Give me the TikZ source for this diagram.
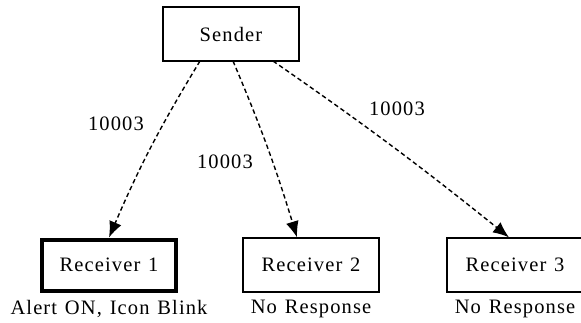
\documentclass[tikz,border=0pt]{standalone}
\usepackage{fontspec}
\setmainfont{Liberation Serif}[LetterSpace=5.5,WordSpace=1.25]
\usetikzlibrary{arrows.meta}
\begin{document}
\begin{tikzpicture}[x=1pt,y=-1pt,
  box/.style={draw, line width=1.3pt, minimum width=136pt, minimum height=54pt, inner sep=0pt, font=\fontsize{20.5}{24}\selectfont},
  thickbox/.style={box, line width=4pt, minimum width=134pt, minimum height=51pt},
  lbl/.style={inner sep=0pt, font=\fontsize{20.5}{24}\selectfont},
  msg/.style={draw, dashed, dash pattern=on 4.5pt off 3pt, line width=1.4pt, -{Latex[length=16pt,width=13pt]}}]
\clip (0,0) rectangle (581,322);
\useasboundingbox (0,0) rectangle (581,322);
\node[box] (sender) at (231,34) {Sender};
\node[thickbox] (r1) at (109,265) {Receiver 1};
\node[box] (r2) at (311,265) {Receiver 2};
\node[box] (r3) at (515,265) {Receiver 3};
\node[lbl] (t1) at (109,309) {Alert ON, Icon Blink};
\node[lbl] (t2) at (311,309) {No Response};
\node[lbl] (t3) at (515,309) {No Response};
\coordinate (s1) at (200,61);
\coordinate (s2) at (233,61);
\coordinate (s3) at (273,61);
\draw[msg] (s1) to[bend right=4] (r1.north);
\draw[msg] (s2) to[bend left=3] ([xshift=-14pt]r2.north);
\draw[msg] (s3) to[bend left=2] ([xshift=-6pt]r3.north);
\node[lbl] (l1) at (116,124) {10003};
\node[lbl] (l2) at (225,162) {10003};
\node[lbl] (l3) at (397,109) {10003};
\end{tikzpicture}
\end{document}
